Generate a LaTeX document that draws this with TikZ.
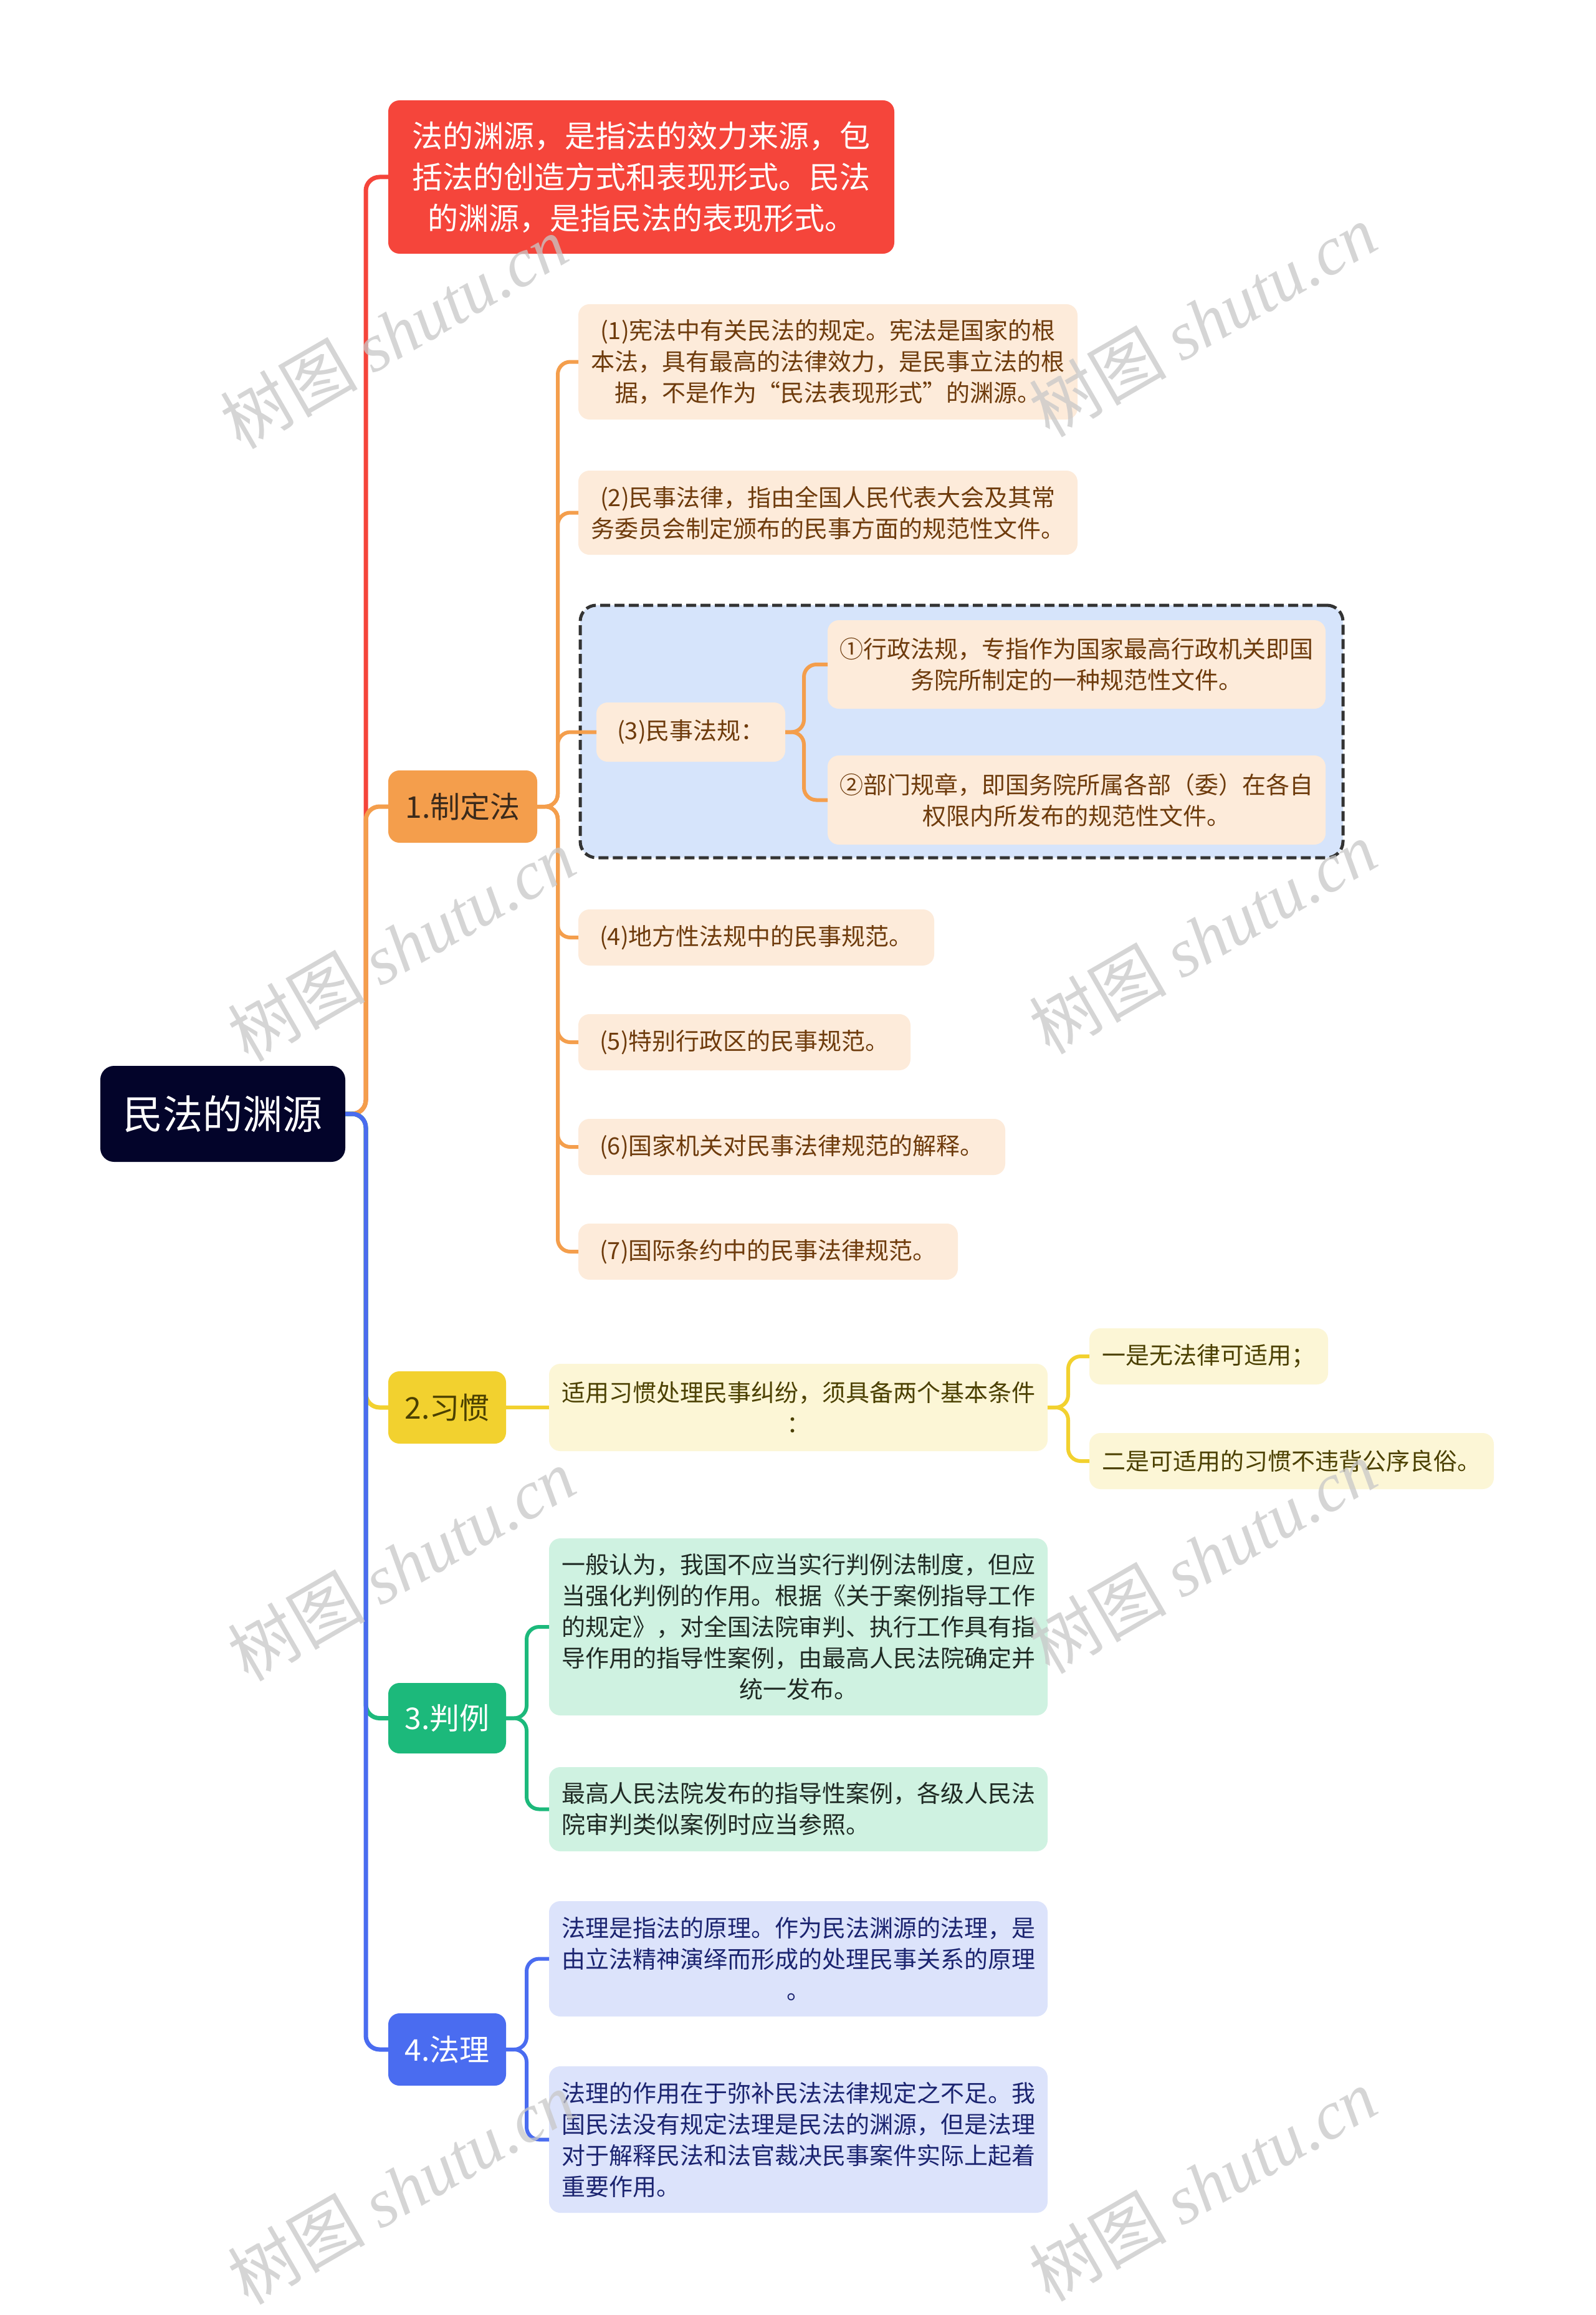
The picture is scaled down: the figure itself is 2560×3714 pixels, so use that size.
\documentclass[tikz,border=0pt]{standalone}
\usepackage{fontspec}
\setmainfont{Noto Sans CJK SC}
\newfontfamily\wmlatin{Liberation Serif}
\definecolor{rootc}{HTML}{03042A}
\definecolor{redc}{HTML}{F5453B}
\definecolor{orangec}{HTML}{F49E4C}
\definecolor{yellowc}{HTML}{F2D12F}
\definecolor{greenc}{HTML}{1CB97B}
\definecolor{bluec}{HTML}{4A6CF0}
\definecolor{lorange}{HTML}{FDEBDA}
\definecolor{lboxblue}{HTML}{D6E4FB}
\definecolor{lyellow}{HTML}{FCF6D6}
\definecolor{lgreen}{HTML}{CFF2E1}
\definecolor{lblue}{HTML}{DCE3FB}
\definecolor{tbrown}{HTML}{6E3B0C}
\definecolor{tolive}{HTML}{4B4000}
\definecolor{tgreen}{HTML}{1F2A24}
\definecolor{tnavy}{HTML}{1B2470}
\definecolor{tbranch}{HTML}{3B2A1B}
\definecolor{wm}{HTML}{C8C8C8}
\tikzset{
  base/.style={inner sep=0pt, outer sep=0pt, align=center},
  rootbox/.style={base, fill=rootc, rounded corners=22pt, text=white, font={\fontsize{64}{76}\selectfont}},
  topbox/.style={base, fill=redc, rounded corners=18pt, text=white, font={\fontsize{49}{66}\selectfont}},
  branchbox/.style={base, rounded corners=18pt, font={\fontsize{48}{58}\selectfont}},
  childbox/.style={base, rounded corners=18pt, font={\fontsize{38}{50}\selectfont}},
  ochild/.style={childbox, fill=lorange, text=tbrown},
  ychild/.style={childbox, fill=lyellow, text=tolive},
  gchild/.style={childbox, fill=lgreen, text=tgreen},
  bchild/.style={childbox, fill=lblue, text=tnavy},
  mainline/.style={line width=7pt, rounded corners=22pt},
  subline/.style={line width=6pt, rounded corners=20pt},
  wmtext/.style={text=wm, opacity=0.75, rotate=30, font={\fontsize{110}{120}\selectfont}},
}
\newcommand{\wmark}{树图 {\wmlatin\itshape shutu.cn}}
\begin{document}
\begin{tikzpicture}[x=1pt,y=-1pt]
\useasboundingbox (0,0) rectangle (2560,3714);
\fill[white] (0,0) rectangle (2560,3714);

% root and top note
\node[rootbox, minimum width=393pt, minimum height=154pt] (root) at (357.5,1787) {民法的渊源};
\node[topbox, minimum width=812pt, minimum height=246pt] (top) at (1029,284) {法的渊源，是指法的效力来源，包\\括法的创造方式和表现形式。民法\\的渊源，是指民法的表现形式。};

% branch 1
\node[branchbox, fill=orangec, text=tbranch, minimum width=239pt, minimum height=116pt] (b1) at (742.5,1294) {1.制定法};
\node[ochild, minimum width=801pt, minimum height=185pt] (c1) at (1328.5,580.5) {(1)宪法中有关民法的规定。宪法是国家的根\\本法，具有最高的法律效力，是民事立法的根\\据，不是作为“民法表现形式”的渊源。};
\node[ochild, minimum width=801pt, minimum height=135pt] (c2) at (1328.5,822.5) {(2)民事法律，指由全国人民代表大会及其常\\务委员会制定颁布的民事方面的规范性文件。};
\node[base, draw=black!80, fill=lboxblue, line width=5pt, dash pattern=on 16pt off 7pt, rounded corners=26pt, minimum width=1224pt, minimum height=405pt] (grp) at (1543,1173.5) {};
\node[ochild, minimum width=303pt, minimum height=95pt] (c3) at (1108.5,1174.5) {(3)民事法规：};
\node[ochild, minimum width=799pt, minimum height=142pt] (c31) at (1727.5,1066) {①行政法规，专指作为国家最高行政机关即国\\务院所制定的一种规范性文件。};
\node[ochild, minimum width=799pt, minimum height=143pt] (c32) at (1727.5,1283.5) {②部门规章，即国务院所属各部（委）在各自\\权限内所发布的规范性文件。};
\node[ochild, minimum width=571pt, minimum height=90pt] (c4) at (1213.5,1504) {(4)地方性法规中的民事规范。};
\node[ochild, minimum width=533pt, minimum height=90pt] (c5) at (1194.5,1672) {(5)特别行政区的民事规范。};
\node[ochild, minimum width=685pt, minimum height=90pt] (c6) at (1270.5,1840) {(6)国家机关对民事法律规范的解释。};
\node[ochild, minimum width=609pt, minimum height=90pt] (c7) at (1232.5,2008) {(7)国际条约中的民事法律规范。};

% branch 2
\node[branchbox, fill=yellowc, text=tolive, minimum width=189pt, minimum height=116pt] (b2) at (717.5,2258) {2.习惯};
\node[ychild, minimum width=800pt, minimum height=140pt] (d1) at (1281,2258) {适用习惯处理民事纠纷，须具备两个基本条件\\：};
\node[ychild, minimum width=383pt, minimum height=90pt] (d11) at (1939.5,2176) {一是无法律可适用；};
\node[ychild, minimum width=649pt, minimum height=90pt] (d12) at (2072.5,2344) {二是可适用的习惯不违背公序良俗。};

% branch 3
\node[branchbox, fill=greenc, text=white, minimum width=189pt, minimum height=113pt] (b3) at (717.5,2756.5) {3.判例};
\node[gchild, minimum width=800pt, minimum height=284pt] (e1) at (1281,2610) {一般认为，我国不应当实行判例法制度，但应\\当强化判例的作用。根据《关于案例指导工作\\的规定》，对全国法院审判、执行工作具有指\\导作用的指导性案例，由最高人民法院确定并\\统一发布。};
\node[gchild, align=left, minimum width=800pt, minimum height=135pt] (e2) at (1281,2902.5) {最高人民法院发布的指导性案例，各级人民法\\院审判类似案例时应当参照。};

% branch 4
\node[branchbox, fill=bluec, text=white, minimum width=189pt, minimum height=116pt] (b4) at (717.5,3288) {4.法理};
\node[bchild, minimum width=800pt, minimum height=185pt] (f1) at (1281,3142.5) {法理是指法的原理。作为民法渊源的法理，是\\由立法精神演绎而形成的处理民事关系的原理\\。};
\node[bchild, align=left, minimum width=800pt, minimum height=235pt] (f2) at (1281,3432.5) {法理的作用在于弥补民法法律规定之不足。我\\国民法没有规定法理是民法的渊源，但是法理\\对于解释民法和法官裁决民事案件实际上起着\\重要作用。};

% main connectors
\draw[mainline, redc] (root.east) -- ++(33,0) |- (top.west);
\draw[mainline, orangec] (root.east) -- ++(33,0) |- (b1.west);
\draw[mainline, yellowc] (root.east) -- ++(33,0) |- (b2.west);
\draw[mainline, greenc] (root.east) -- ++(33,0) |- (b3.west);
\draw[mainline, bluec] (root.east) -- ++(33,0) |- (b4.west);

% branch 1 connectors
\foreach \c in {c1,c2,c3,c4,c5,c6,c7}
  \draw[subline, orangec] (b1.east) -- ++(33,0) |- (\c.west);
\foreach \c in {c31,c32}
  \draw[subline, orangec] (c3.east) -- ++(30,0) |- (\c.west);

% branch 2 connectors
\draw[subline, yellowc] (b2.east) -- (d1.west);
\foreach \c in {d11,d12}
  \draw[subline, yellowc] (d1.east) -- ++(33,0) |- (\c.west);

% branch 3 connectors
\foreach \c in {e1,e2}
  \draw[subline, greenc] (b3.east) -- ++(33,0) |- (\c.west);

% branch 4 connectors
\foreach \c in {f1,f2}
  \draw[subline, bluec] (b4.east) -- ++(33,0) |- (\c.west);

% watermarks
\node[wmtext] (wm1) at (632,533) {\wmark};
\node[wmtext] (wm2) at (1930,514) {\wmark};
\node[wmtext] (wm3) at (644,1516) {\wmark};
\node[wmtext] (wm4) at (1930,1504) {\wmark};
\node[wmtext] (wm5) at (644,2510) {\wmark};
\node[wmtext] (wm6) at (1930,2498) {\wmark};
\node[wmtext] (wm7) at (644,3510) {\wmark};
\node[wmtext] (wm8) at (1930,3505) {\wmark};
\end{tikzpicture}
\end{document}
